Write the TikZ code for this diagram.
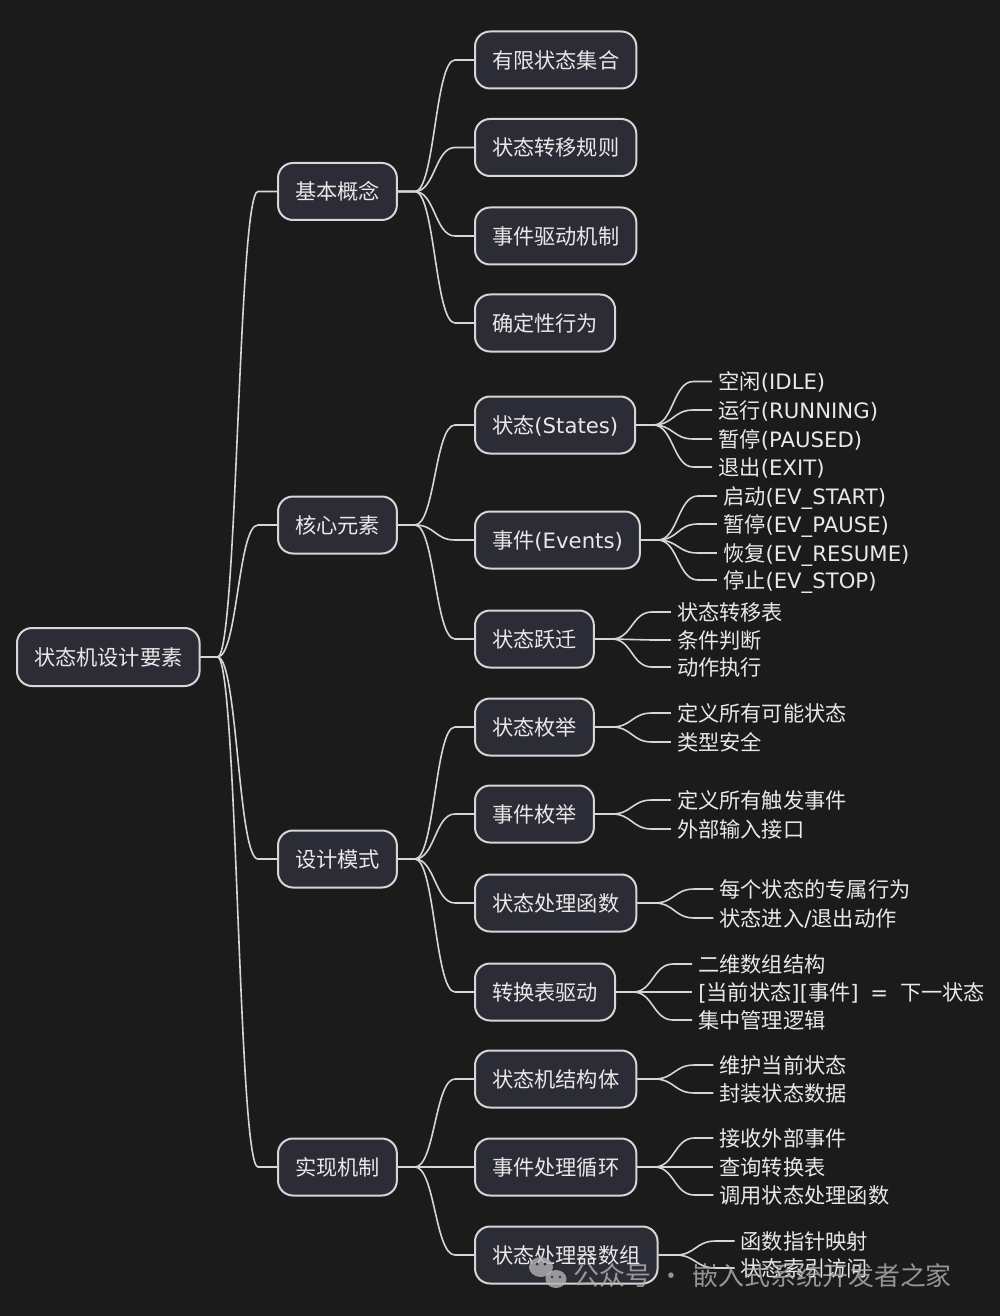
\documentclass[tikz,border=0pt]{standalone}
\usepackage{fontspec}
\setmainfont{Noto Sans CJK SC}
\newfontfamily\lat{DejaVu Sans}
\usetikzlibrary{calc}
\definecolor{bg}{HTML}{1B1B1B}
\definecolor{boxfill}{HTML}{2C2C36}
\definecolor{edge}{HTML}{D6D6D6}
\definecolor{txt}{HTML}{E8E8E8}
\definecolor{wm}{HTML}{B4B4B4}
\newcommand\conn[2]{\draw[conn] (#1.east) -- ++(17,0) .. controls +(20,0) and +(-20,0) .. ($(#2.west)+(-19,0)$) -- (#2.west);}
\newcommand\leafnode[4]{\path (#2.east) ++(76,0) coordinate (t#1); \node[leaf] (#1) at (t#1 |- 0,#3) {#4}; \conn{#2}{#1}}
\begin{document}
\begin{tikzpicture}[x=1bp,y=-1bp,
  box/.style={draw=edge, line width=2bp, fill=boxfill, rounded corners=15bp, text=txt,
    font=\fontsize{21.3}{25}\selectfont, minimum height=57bp, inner xsep=17bp, inner ysep=0pt,
    text height=18.7pt, text depth=2.6pt, anchor=west},
  leaf/.style={text=txt, font=\fontsize{21.3}{25}\selectfont, inner xsep=6bp, inner ysep=0pt,
    text height=18.7pt, text depth=2.6pt, anchor=west},
  conn/.style={draw=edge, line width=1.6bp}]
\fill[bg] (0,0) rectangle (1000,1316);
\useasboundingbox (0,0) rectangle (1000,1316);
% root
\node[box, minimum height=58bp] (root) at (16,657) {状态机设计要素};
% level 1
\node[box] (k1) at (277,191.5) {基本概念};
\node[box] (k2) at (277,525) {核心元素};
\node[box] (k3) at (277,859) {设计模式};
\node[box] (k4) at (277,1167) {实现机制};
\foreach \k in {k1,k2,k3,k4} {\conn{root}{\k}}
% level 2
\node[box] (a1) at (474,60) {有限状态集合};
\node[box] (a2) at (474,147.5) {状态转移规则};
\node[box] (a3) at (474,236) {事件驱动机制};
\node[box] (a4) at (474,323) {确定性行为};
\node[box] (b1) at (474,425) {状态{\lat (States)}};
\node[box] (b2) at (474,540) {事件{\lat (Events)}};
\node[box] (b3) at (474,639) {状态跃迁};
\node[box] (c1) at (474,727) {状态枚举};
\node[box] (c2) at (474,814) {事件枚举};
\node[box] (c3) at (474,903) {状态处理函数};
\node[box] (c4) at (474,992) {转换表驱动};
\node[box] (d1) at (474,1079) {状态机结构体};
\node[box] (d2) at (474,1167) {事件处理循环};
\node[box] (d3) at (474,1255) {状态处理器数组};
\foreach \c in {a1,a2,a3,a4} {\conn{k1}{\c}}
\foreach \c in {b1,b2,b3} {\conn{k2}{\c}}
\foreach \c in {c1,c2,c3,c4} {\conn{k3}{\c}}
\foreach \c in {d1,d2,d3} {\conn{k4}{\c}}
% leaves
\leafnode{l1}{b1}{381.5}{空闲{\lat (IDLE)}}
\leafnode{l2}{b1}{410}{运行{\lat (RUNNING)}}
\leafnode{l3}{b1}{439}{暂停{\lat (PAUSED)}}
\leafnode{l4}{b1}{467}{退出{\lat (EXIT)}}
\leafnode{l5}{b2}{496}{启动{\lat (EV\_START)}}
\leafnode{l6}{b2}{524}{暂停{\lat (EV\_PAUSE)}}
\leafnode{l7}{b2}{553}{恢复{\lat (EV\_RESUME)}}
\leafnode{l8}{b2}{580}{停止{\lat (EV\_STOP)}}
\leafnode{l9}{b3}{612}{状态转移表}
\leafnode{l10}{b3}{640}{条件判断}
\leafnode{l11}{b3}{667}{动作执行}
\leafnode{l12}{c1}{713}{定义所有可能状态}
\leafnode{l13}{c1}{742}{类型安全}
\leafnode{l14}{c2}{800}{定义所有触发事件}
\leafnode{l15}{c2}{829}{外部输入接口}
\leafnode{l16}{c3}{889}{每个状态的专属行为}
\leafnode{l17}{c3}{918}{状态进入{\lat /}退出动作}
\leafnode{l18}{c4}{964}{二维数组结构}
\leafnode{l19}{c4}{992}{{\lat [}当前状态{\lat ][}事件{\lat ]\hspace{5bp} = \hspace{5bp}}下一状态}
\leafnode{l20}{c4}{1020}{集中管理逻辑}
\leafnode{l21}{d1}{1065}{维护当前状态}
\leafnode{l22}{d1}{1093}{封装状态数据}
\leafnode{l23}{d2}{1138}{接收外部事件}
\leafnode{l24}{d2}{1167}{查询转换表}
\leafnode{l25}{d2}{1195}{调用状态处理函数}
\leafnode{l26}{d3}{1241}{函数指针映射}
\leafnode{l27}{d3}{1268}{状态索引访问}
% watermark
\begin{scope}[opacity=0.8]
\fill[wm] (541,1267) ellipse (12 and 10);
\fill[wm] (556,1279) ellipse (10.5 and 9);
\fill[bg] (537,1264) circle (1.6) (545,1264) circle (1.6);
\fill[bg] (552,1277) circle (1.4) (560,1277) circle (1.4);
\node[anchor=west, text=wm, font=\fontsize{26}{30}\selectfont, inner sep=0pt] (wmtext) at (573,1276) {公众号\hspace{8bp}·\hspace{8bp}嵌入式系统开发者之家};
\end{scope}
\end{tikzpicture}
\end{document}
